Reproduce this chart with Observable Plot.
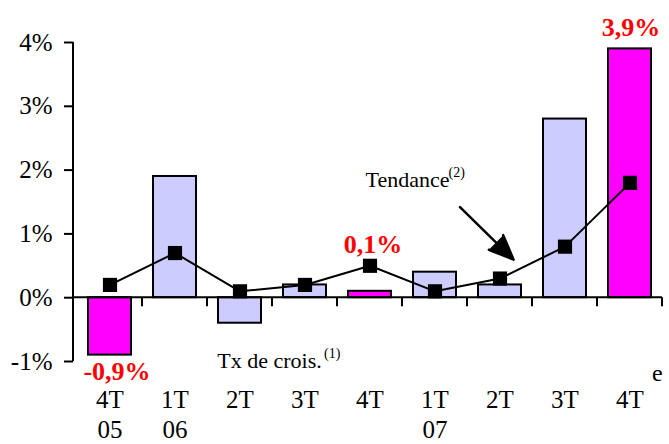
<!DOCTYPE html>
<html>
<head>
<meta charset="utf-8">
<script src="https://cdn.jsdelivr.net/npm/d3@7"></script>
<script src="https://cdn.jsdelivr.net/npm/@observablehq/plot@0.6"></script>
<style>
  html, body { margin: 0; padding: 0; background: white; }
  #chart svg { display: block; }
</style>
</head>
<body>
<div id="chart"></div>
<script>
// ---- data ----
const quarters = ["4T 05","1T 06","2T 06","3T 06","4T 06","1T 07","2T 07","3T 07","4T 07"];
const tickLabels = ["4T\n05","1T\n06","2T","3T","4T","1T\n07","2T","3T","4T"];
const growth = [-0.9, 1.9, -0.4, 0.2, 0.1, 0.4, 0.2, 2.8, 3.9];
const trend = [0.2, 0.7, 0.1, 0.2, 0.5, 0.1, 0.3, 0.8, 1.8];
const highlighted = ["4T 05", "4T 06", "4T 07"];
const yTicks = [-1, 0, 1, 2, 3, 4];

const valueLabels = [
  {q: "4T 05", v: -0.9, text: "-0,9%", dx: 7, dy: 17},
  {q: "4T 06", v: 0.1, text: "0,1%", dx: 3, dy: -47},
  {q: "4T 07", v: 3.9, text: "3,9%", dx: 1, dy: -21}
];
const notes = [
  {q: "4T 06", v: 1.85, text: "Tendance", size: 22, dx: -4.5},
  {q: "4T 06", v: 1.96, text: "(2)", size: 14, dx: 78.5},
  {q: "2T 06", v: -0.99, text: "Tx de crois.", size: 22, dx: -22.75},
  {q: "2T 06", v: -0.87, text: "(1)", size: 14, dx: 84},
  {q: "4T 07", v: -1.19, text: "e", size: 24, dx: 22}
];
const arrowData = [{q1: "1T 07", v1: 1.42, q2: "2T 07", v2: 0.42}];

const colorHi = "#FF00FF";
const colorLo = "#CCCCFF";

const data = quarters.map((q, i) => ({q, g: growth[i], t: trend[i],
  fill: highlighted.includes(q) ? colorHi : colorLo}));
const labelOf = new Map(quarters.map((q, i) => [q, tickLabels[i]]));

// boundary ticks on the zero line, zero line and vertical axis line
function frameBits(index, scales, values, dims) {
  const x = scales.x, y = scales.y;
  const bw = (typeof x.bandwidth === "function") ? x.bandwidth() : scales.scales.x.bandwidth;
  const step = x(quarters[1]) - x(quarters[0]);
  const xs = quarters.map(d => x(d) + bw / 2 + step / 2);
  const y0 = y(0);
  const g = d3.create("svg:g").attr("stroke", "black").attr("stroke-width", 2).attr("fill", "none");
  xs.forEach(v => g.append("line").attr("x1", v).attr("x2", v).attr("y1", y0).attr("y2", y0 + 9));
  const xl = dims.marginLeft;
  g.append("line").attr("x1", xl).attr("x2", xl).attr("y1", y(yTicks[yTicks.length - 1])).attr("y2", y(yTicks[0]));
  g.append("line").attr("x1", xl).attr("x2", xs[xs.length - 1]).attr("y1", y0).attr("y2", y0);
  return g.node();
}

const plot = Plot.plot({
  width: 669,
  height: 444,
  marginLeft: 73,
  marginRight: 3,
  marginTop: 42,
  marginBottom: 83,
  style: {fontFamily: "'Liberation Serif', 'Times New Roman', serif", fontSize: "25px", color: "black", background: "white"},
  x: {domain: quarters, type: "band", paddingInner: 0.34, paddingOuter: 0.17, align: 0.5},
  y: {domain: [-1, 4]},
  marks: [
    Plot.barY(data, {x: "q", y: "g", fill: "fill", stroke: "black", strokeWidth: 2}),
    frameBits,
    Plot.axisY({ticks: yTicks, tickFormat: d => `${d}%`, tickSize: 9, tickPadding: 12, strokeWidth: 2, fontSize: 25, label: null}),
    Plot.axisX({tickSize: 0, tickPadding: 25, fontSize: 25, lineHeight: 1.2, tickFormat: d => labelOf.get(d), label: null}),
    Plot.line(data, {x: "q", y: "t", stroke: "black", strokeWidth: 2}),
    Plot.dot(data, {x: "q", y: "t", symbol: "square", r: 8, fill: "black", stroke: "none"}),
    ...valueLabels.map(d => Plot.text([d], {x: "q", y: "v", text: "text", dx: d.dx, dy: d.dy, fill: "#FF0000", fontWeight: "bold", fontSize: 26, lineAnchor: "middle"})),
    ...notes.map(d => Plot.text([d], {x: "q", y: "v", text: "text", dx: d.dx, fontSize: d.size, textAnchor: "start", lineAnchor: "middle", fill: "black"})),
    Plot.arrow(arrowData, {x1: "q1", y1: "v1", x2: "q2", y2: "v2", dx: 25, insetEnd: 16, stroke: "black", fill: "black", strokeWidth: 2.5, headLength: 16, headAngle: 45})
  ]
});
document.getElementById("chart").appendChild(plot);
</script>
</body>
</html>
